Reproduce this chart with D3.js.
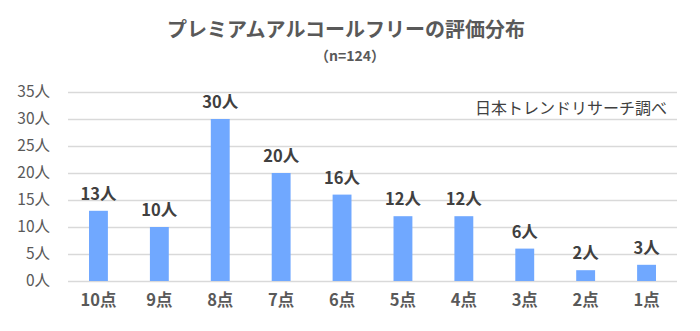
<!DOCTYPE html>
<html>
<head>
<meta charset="utf-8">
<script src="https://cdn.jsdelivr.net/npm/d3@7"></script>
<style>
  html, body { margin: 0; padding: 0; background: #fff; }
  svg { display: block; font-family: "Noto Sans CJK JP", "Noto Sans", sans-serif; }
</style>
</head>
<body>
<svg id="chart" width="700" height="331"></svg>
<script>
// Rating distribution data
const categories = ["10点", "9点", "8点", "7点", "6点", "5点", "4点", "3点", "2点", "1点"];
const counts = [13, 10, 30, 20, 16, 12, 12, 6, 2, 3];
const yTicks = [0, 5, 10, 15, 20, 25, 30, 35];
const titleText = "プレミアムアルコールフリーの評価分布";
const subtitleText = "（n=124）";
const sourceText = "日本トレンドリサーチ調べ";
const unit = "人";

const svg = d3.select("#chart");
const plot = { left: 68, right: 677, top: 92, bottom: 281 };

const x = d3.scaleBand()
  .domain(categories)
  .range([plot.left, plot.right])
  .paddingInner(0.69)
  .paddingOuter(0.345);

const y = d3.scaleLinear()
  .domain([0, 35])
  .range([plot.bottom, plot.top]);

// Horizontal gridlines
svg.append("g")
  .selectAll("line")
  .data(yTicks)
  .join("line")
  .attr("x1", plot.left)
  .attr("x2", plot.right)
  .attr("y1", d => Math.round(y(d)) + 0.5)
  .attr("y2", d => Math.round(y(d)) + 0.5)
  .attr("stroke", "#d9d9d9")
  .attr("stroke-width", 1.5);

// Y axis labels
const yAxis = d3.axisLeft(y).tickValues(yTicks).tickSize(0).tickPadding(0)
  .tickFormat(d => d + unit);
const yg = svg.append("g").attr("transform", `translate(${plot.left - 18},0)`).call(yAxis);
yg.select(".domain").remove();
yg.selectAll("text")
  .attr("fill", "#595959")
  .style("font-size", "15.5px")
  .style("font-family", "'Noto Sans CJK JP', sans-serif");

// Bars
svg.append("g")
  .selectAll("rect")
  .data(categories)
  .join("rect")
  .attr("x", d => x(d))
  .attr("width", x.bandwidth())
  .attr("y", (d, i) => y(counts[i]))
  .attr("height", (d, i) => y(0) - y(counts[i]))
  .attr("fill", "#70a8ff");

// Value labels
svg.append("g")
  .selectAll("text")
  .data(categories)
  .join("text")
  .attr("x", d => x(d) + x.bandwidth() / 2)
  .attr("y", (d, i) => y(counts[i]) - 11)
  .attr("text-anchor", "middle")
  .attr("fill", "#404040")
  .style("font-size", "16.5px")
  .style("font-weight", "bold")
  .text((d, i) => counts[i] + unit);

// X axis labels
const xAxis = d3.axisBottom(x).tickSize(0).tickPadding(0);
const xg = svg.append("g").attr("transform", `translate(0,${plot.bottom + 11})`).call(xAxis);
xg.select(".domain").remove();
xg.selectAll("text")
  .attr("dy", "0.85em")
  .attr("fill", "#595959")
  .style("font-size", "16.5px")
  .style("font-weight", "bold")
  .style("font-family", "'Noto Sans CJK JP', sans-serif");

// Title and subtitle
svg.append("text")
  .attr("x", 346).attr("y", 37)
  .attr("text-anchor", "middle")
  .attr("fill", "#595959")
  .style("font-size", "20px")
  .style("font-weight", "bold")
  .text(titleText);

svg.append("text")
  .attr("x", 350).attr("y", 61)
  .attr("text-anchor", "middle")
  .attr("fill", "#595959")
  .style("font-size", "14px")
  .style("font-weight", "bold")
  .text(subtitleText);

// Source note
svg.append("text")
  .attr("x", 667).attr("y", 114)
  .attr("text-anchor", "end")
  .attr("fill", "#404040")
  .style("font-size", "16px")
  .text(sourceText);
</script>
</body>
</html>
